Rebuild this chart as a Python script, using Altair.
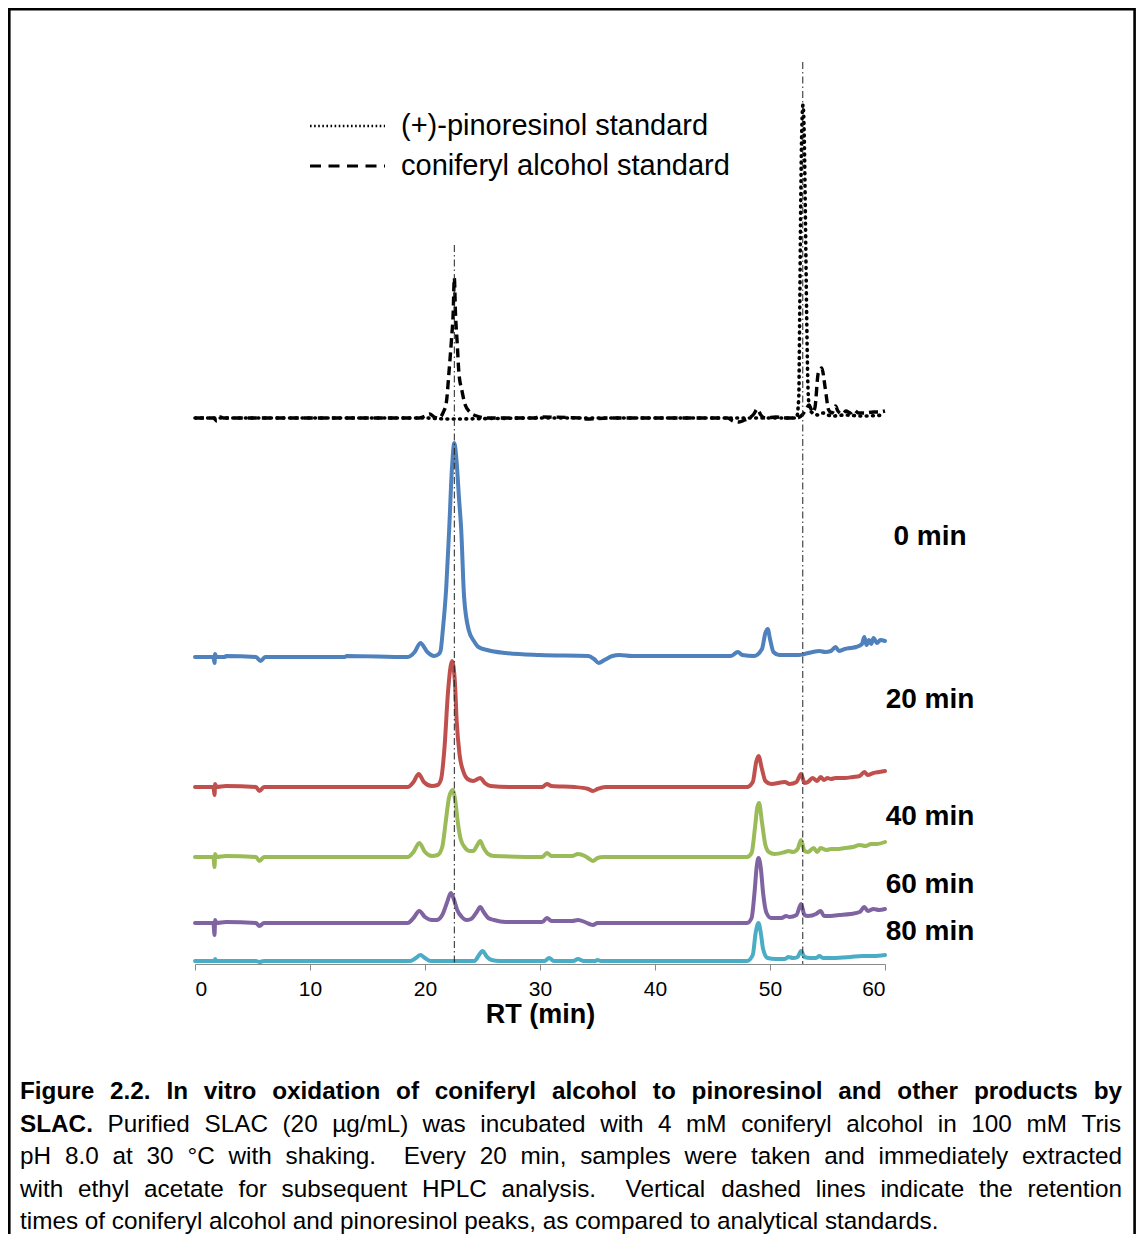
import altair as alt
import pandas as pd

FONT = "Liberation Sans"

# ---------------- data ----------------
x_ticks = [0, 10, 20, 30, 40, 50, 60]

trace_names = ["0 min", "20 min", "40 min", "60 min", "80 min"]
trace_colors = ["#4F81BD", "#C0504D", "#9BBB59", "#8064A2", "#4BACC6"]
trace_offsets = [307, 177, 107, 41, 3]          # vertical stacking offset (a.u.)

rt_0 = [0, 1.6, 1.7, 1.75, 1.85, 2.6, 2.7, 5.3, 5.7, 6.1, 13, 13.2, 18.5, 19.1, 19.6, 20.2, 20.8, 21.2, 21.35,
        21.55, 21.85, 22.1, 22.35, 22.55, 22.75, 22.95, 23.15, 23.4, 23.8, 24.25, 24.65, 25.4, 27, 30, 34.2, 34.7,
        35.1, 35.6, 36.3, 36.9, 38, 46.6, 47.2, 47.6, 48.6, 49.3, 49.6, 49.8, 50.0, 50.3, 50.8, 52.5, 53, 53.7,
        54.3, 54.8, 55.3, 55.7, 56.0, 56.5, 57.0, 57.5, 58.0, 58.2, 58.4, 58.6, 58.8, 59.0, 59.3, 59.6, 60]
sig_0 = [0, 0, -6, 3, 0, 0, 1, 0, -4, 0, 0, 1, 0, 5, 14, 5, 1, 3, 6,
         27, 70, 127, 190, 214, 195, 160, 127, 60, 27, 16, 10, 7, 4, 2, 1, -2,
         -6, -3, 1, 2, 1, 1, 5, 2, 1, 8, 24, 28, 18, 5, 2, 2, 3, 5,
         6, 5, 6, 10, 6, 8, 9, 10, 13, 20, 12, 17, 13, 19, 14, 17, 16]

rt_20 = [0, 1.6, 1.7, 1.75, 1.85, 2.7, 5.3, 5.6, 6.0, 18.5, 19.0, 19.45, 19.9, 20.6, 21.1, 21.4, 21.7, 22.0,
         22.35, 22.6, 22.75, 23.0, 23.35, 23.7, 24.2, 24.8, 25.2, 25.7, 27.3, 30.2, 30.6, 31.0, 33.0, 34.2, 34.6,
         35.0, 35.7, 48.0, 48.5, 48.8, 49.0, 49.3, 49.6, 50.1, 51.3, 51.7, 52.3, 52.7, 53.0, 53.3, 53.7, 54.1,
         54.4, 54.7, 55.0, 55.3, 55.7, 56.5, 57.2, 57.8, 58.2, 58.5, 59.0, 59.5, 60]
sig_20 = [0, 0, -8, 3, 0, 1, 0, -4, 0, 0, 5, 13, 5, 1, 2, 8, 40, 95,
          126, 105, 67, 33, 15, 8, 6, 9, 4, 1, 0, 0, 3, 1, 0, -2, -4,
          -2, 0, 0, 5, 25, 31, 18, 6, 3, 5, 3, 5, 13, 4, 5, 9, 6,
          10, 7, 9, 8, 9, 9, 10, 11, 15, 12, 14, 15, 16]

rt_40 = [0, 1.6, 1.7, 1.75, 1.85, 2.7, 5.3, 5.6, 6.0, 18.5, 19.0, 19.5, 20.0, 20.6, 21.1, 21.5, 21.8, 22.1,
         22.4, 22.65, 22.85, 23.1, 23.5, 23.9, 24.2, 24.5, 24.8, 25.1, 25.5, 26.0, 30.2, 30.6, 31.0, 32.8, 33.3,
         33.9, 34.3, 34.6, 35.0, 35.5, 48.0, 48.4, 48.7, 48.9, 49.05, 49.3, 49.6, 49.9, 50.4, 51.3, 51.6, 52.0,
         52.4, 52.7, 53.0, 53.3, 53.8, 54.1, 54.4, 54.9, 55.3, 55.8, 56.5, 57.2, 57.8, 58.3, 58.8, 59.3, 60]
sig_40 = [0, 0, -10, 3, 0, 1, 0, -4, 0, 0, 5, 14, 5, 1, 2, 10, 35, 60,
          67, 55, 35, 18, 9, 6, 6, 11, 16, 9, 3, 1, 0, 4, 1, 1, 3,
          1, -2, -4, -1, 0, 0, 4, 30, 50, 54, 35, 12, 5, 3, 5, 6, 5,
          8, 17, 6, 5, 9, 5, 9, 7, 8, 8, 9, 10, 12, 11, 13, 13, 15]

rt_60 = [0, 1.6, 1.7, 1.75, 1.85, 2.7, 5.3, 5.6, 6.0, 18.5, 19.0, 19.5, 20.0, 20.6, 21.0, 21.5, 21.9, 22.25,
         22.5, 22.8, 23.2, 23.6, 24.0, 24.5, 24.8, 25.1, 25.5, 26.0, 27.0, 30.2, 30.6, 31.0, 32.8, 33.3, 33.9,
         34.3, 34.6, 35.0, 48.0, 48.4, 48.65, 48.85, 49.0, 49.2, 49.4, 49.7, 50.1, 51.0, 51.4, 51.7, 52.3, 52.7,
         53.0, 53.3, 54.0, 54.4, 54.7, 55.0, 56.0, 57.0, 57.8, 58.2, 58.5, 59.0, 59.5, 60]
sig_60 = [0, 0, -12, 3, 0, 1, 0, -3, 0, 0, 5, 12, 6, 3, 3, 8, 20, 30,
          24, 13, 6, 3, 4, 11, 16, 11, 5, 3, 1, 1, 5, 2, 2, 3, 1,
          -1, -2, 0, 0, 5, 30, 57, 65, 55, 30, 10, 5, 5, 7, 6, 8, 19,
          8, 7, 9, 12, 7, 7, 8, 9, 11, 16, 12, 14, 13, 14]

rt_80 = [0, 1.7, 1.75, 1.85, 5.3, 5.6, 6.0, 18.7, 19.2, 19.6, 20.0, 20.5, 24.3, 24.7, 25.0, 25.4, 25.8, 26.5,
         30.4, 30.8, 31.2, 32.9, 33.3, 33.8, 34.8, 35.0, 35.3, 48.0, 48.5, 48.75, 49.0, 49.2, 49.4, 49.8, 50.5,
         51.3, 51.6, 52.0, 52.4, 52.7, 53.0, 53.5, 54.0, 54.3, 54.6, 55.5, 57.0, 58.0, 59.0, 60]
sig_80 = [0, 0, 2, 0, 0, -1, 0, 0, 3, 6, 3, 0, 0, 6, 10, 4, 1, 0,
          0, 3, 0, 0, 2, 0, 0, 1, 0, 0, 6, 28, 38, 28, 12, 3, 2,
          2, 4, 3, 4, 10, 4, 3, 3, 5, 3, 3, 4, 5, 5, 6]

std_offset = 546
rt_conif = [0, 1.6, 1.9, 2.2, 2.5, 19.5, 20.0, 20.4, 20.8, 21.2, 21.6, 21.85, 22.1, 22.3, 22.45, 22.55, 22.65,
            22.8, 22.95, 23.2, 23.5, 23.9, 24.5, 25.5, 29.5, 30.0, 33.5, 34.0, 36.0, 46.3, 46.8, 47.3, 47.8, 48.2,
            48.6, 48.9, 49.2, 49.6, 50.5, 51.5, 52.3, 52.8, 53.1, 53.4, 53.7, 53.9, 54.2, 54.5, 54.8, 55.1, 55.4,
            55.7, 55.9, 56.3, 56.6, 57.0, 57.3, 57.7, 58.2, 59.0, 59.5, 60]
sig_conif = [0, 0, -3, 1, 0, 0, 2, 4, 1, 0, 6, 15, 48, 78, 105, 140, 105,
             75, 45, 28, 13, 6, 2, 0, 0, 1, 0, -1, 0, 0, -3, -4, -2, 0,
             4, 9, 3, 0, 1, 0, 0, 3, 8, 13, 6, 10, 45, 50, 30, 8, 5,
             12, 7, 4, 7, 5, 8, 5, 5, 6, 6, 7]

rt_pino = [0, 10, 20, 22, 30, 46, 50, 52.3, 52.5, 52.58, 52.66, 52.75, 52.87, 52.98, 53.08, 53.18, 53.28,
           53.38, 53.6, 54.2, 54.6, 55.0, 55.5, 56.5, 58, 60]
sig_pino = [0, 0, 0, -1, 0, 0, 0, 0, 20, 100, 200, 280, 313, 280, 200, 110, 40,
            15, 6, 3, 5, 3, 2, 3, 2, 3]

ref_rt = [22.55, 52.85]          # retention times of the standards
ref_top = [719, 902]

legend_labels = ["(+)-pinoresinol standard", "coniferyl alcohol standard"]

caption_lines = [
    "Figure 2.2. In vitro oxidation of coniferyl alcohol to pinoresinol and other products by",
    "SLAC. Purified SLAC (20 \u00b5g/mL) was incubated with 4 mM coniferyl alcohol in 100 mM Tris",
    "pH 8.0 at 30 \u00b0C with shaking.  Every 20 min, samples were taken and immediately extracted",
    "with ethyl acetate for subsequent HPLC analysis.  Vertical dashed lines indicate the retention",
    "times of coniferyl alcohol and pinoresinol peaks, as compared to analytical standards.",
]
caption_bold_words = [None, 1, 0, 0, 0]     # line 1 all bold, line 2 first word bold

# ---------------- geometry ----------------
W, H = 690, 956
PX0, PXW = 195.0, 11.5          # page x of RT 0, px per minute
AXIS_Y = 964.0                  # page y of the axis line


def to_rt(px):
    return (px - PX0) / PXW


def to_y(py):
    return AXIS_Y - py


xs = alt.Scale(domain=[0, 60], nice=False, zero=False)
ys = alt.Scale(domain=[0, H], nice=False, zero=False)
x_axis = alt.Axis(values=x_ticks, grid=False, domainColor="#8a8a8a", tickColor="#8a8a8a",
                  tickSize=6, domainWidth=1.2, labelFontSize=21, labelColor="black",
                  labelFont=FONT, labelPadding=8, titleFont=FONT, titleFontSize=27,
                  titleFontWeight="bold", titleColor="black", titlePadding=2)


def X(f="rt"):
    return alt.X(f"{f}:Q", scale=xs, axis=x_axis, title="RT (min)")


def Y(f="y"):
    return alt.Y(f"{f}:Q", scale=ys, axis=None)


# ---------------- tables ----------------
rows = []
for name, off, rts, sigs in zip(trace_names, trace_offsets,
                                [rt_0, rt_20, rt_40, rt_60, rt_80],
                                [sig_0, sig_20, sig_40, sig_60, sig_80]):
    for r, s in zip(rts, sigs):
        rows.append({"rt": r, "y": off + s, "trace": name})
traces = pd.DataFrame(rows)

conif = pd.DataFrame({"rt": rt_conif, "y": [std_offset + s for s in sig_conif]})
pino = pd.DataFrame({"rt": rt_pino, "y": [std_offset + s for s in sig_pino]})
refs = pd.DataFrame({"rt": ref_rt, "top": ref_top, "bot": [0, 0]})

# ---------------- caption layout (justified, Arial metrics) ----------------
REG = dict(zip("abcdefghijklmnopqrstuvwxyz",
               [556, 556, 500, 556, 556, 278, 556, 556, 222, 222, 500, 222, 833, 556, 556, 556, 556, 333,
                500, 278, 556, 500, 722, 500, 500, 500]))
REG.update({"A": 667, "C": 722, "E": 667, "F": 611, "H": 722, "I": 278, "L": 556, "M": 833, "P": 667,
            "S": 667, "T": 611, "V": 667, " ": 278, ".": 278, ",": 278, "(": 333, ")": 333, "/": 278,
            "\u00b0": 400, "\u00b5": 556, "-": 333})
REG.update({d: 556 for d in "0123456789"})
BOLD = dict(zip("abcdefghijklmnopqrstuvwxyz",
                [556, 611, 556, 611, 556, 333, 611, 611, 278, 278, 556, 278, 889, 611, 611, 611, 611, 389,
                 556, 333, 611, 556, 778, 556, 556, 500]))
BOLD.update({"A": 722, "C": 722, "F": 611, "I": 278, "L": 611, "S": 667, " ": 278, ".": 278})
BOLD.update({d: 556 for d in "0123456789"})

CAP_FS = 24.3
CAP_LEFT, CAP_RIGHT = 20.0, 1122.0
cap_page_y = [1092, 1125, 1157, 1190, 1222]


def wid(s, bold):
    tab = BOLD if bold else REG
    return sum(tab.get(c, 556) for c in s) * CAP_FS / 1000.0


cap_rows = []
for i, line in enumerate(caption_lines):
    toks = line.split(" ")
    nb = caption_bold_words[i]
    bold_flags = [True] * len(toks) if nb is None else [k < nb for k in range(len(toks))]
    natural = sum(wid(t, b) for t, b in zip(toks, bold_flags)) + (len(toks) - 1) * wid(" ", False)
    justify = i < len(caption_lines) - 1
    gap = wid(" ", False)
    if justify:
        gap += (CAP_RIGHT - CAP_LEFT - natural) / (len(toks) - 1)
    px = CAP_LEFT
    for t, b in zip(toks, bold_flags):
        if t:
            cap_rows.append({"x": to_rt(px), "y": to_y(cap_page_y[i]), "t": t, "bold": b})
        px += wid(t, b) + gap
cap_df = pd.DataFrame(cap_rows)

# ---------------- layers ----------------
frame = alt.Chart(pd.DataFrame({"x": [to_rt(9.3)], "x2": [to_rt(1134.6)], "y": [to_y(9.3)],
                                "y2": [to_y(1275)]})).mark_rect(
    filled=False, stroke="black", strokeWidth=2.6
).encode(x=X("x"), x2="x2:Q", y=Y("y"), y2="y2:Q")

conif_line = alt.Chart(conif).mark_line(color="black", strokeWidth=3.4, strokeDash=[9, 5],
                                        interpolate="monotone").encode(x=X(), y=Y())
pino_line = alt.Chart(pino).mark_line(color="black", strokeWidth=3.6, strokeDash=[0.8, 5.5],
                                      strokeCap="round", interpolate="monotone").encode(x=X(), y=Y())

trace_lines = alt.Chart(traces).mark_line(strokeWidth=4, strokeJoin="round", strokeCap="round",
                                          interpolate="monotone").encode(
    x=X(), y=Y(),
    color=alt.Color("trace:N", scale=alt.Scale(domain=trace_names, range=trace_colors), legend=None),
)

ref_lines = alt.Chart(refs).mark_rule(color="#222222", strokeWidth=1, strokeDash=[7, 3, 1.5, 3]).encode(
    x=X(), y=Y("top"), y2="bot:Q"
)

lab_df = pd.DataFrame({"rt": [to_rt(930)] * 5, "y": [to_y(v) for v in [537, 700, 817, 885, 932]],
                       "label": trace_names})
labels = alt.Chart(lab_df).mark_text(font=FONT, fontSize=28, fontWeight="bold", color="black",
                                     align="center", baseline="middle").encode(x=X(), y=Y(), text="label:N")

leg_df = pd.DataFrame({"x": [to_rt(310)] * 2, "x2": [to_rt(385)] * 2, "tx": [to_rt(401)] * 2,
                       "y": [to_y(126), to_y(166)], "label": legend_labels})
leg_dot = alt.Chart(leg_df.iloc[[0]]).mark_rule(color="black", strokeWidth=2.4, strokeDash=[1.6, 2.5]).encode(
    x=X("x"), x2="x2:Q", y=Y())
leg_dash = alt.Chart(leg_df.iloc[[1]]).mark_rule(color="black", strokeWidth=3, strokeDash=[11, 7.5]).encode(
    x=X("x"), x2="x2:Q", y=Y())
leg_text = alt.Chart(leg_df).mark_text(font=FONT, fontSize=29, color="black", align="left",
                                       baseline="middle").encode(x=X("tx"), y=Y(), text="label:N")

cap_bold = alt.Chart(cap_df[cap_df["bold"]]).mark_text(
    font=FONT, fontSize=CAP_FS, fontWeight="bold", color="black", align="left", baseline="middle"
).encode(x=X("x"), y=Y(), text="t:N")
cap_norm = alt.Chart(cap_df[~cap_df["bold"]]).mark_text(
    font=FONT, fontSize=CAP_FS, color="black", align="left", baseline="middle"
).encode(x=X("x"), y=Y(), text="t:N")

chart = alt.layer(
    frame, conif_line, pino_line, trace_lines, ref_lines, labels,
    leg_dot, leg_dash, leg_text, cap_bold, cap_norm
).properties(
    width=W, height=H,
    autosize=alt.AutoSizeParams(type="none"),
    padding={"left": 187, "top": 0, "right": 251, "bottom": 270},
).configure(background="white", view=alt.ViewConfig(stroke=None))

chart.save("out.html", embed_options={"renderer": "svg", "actions": False})
